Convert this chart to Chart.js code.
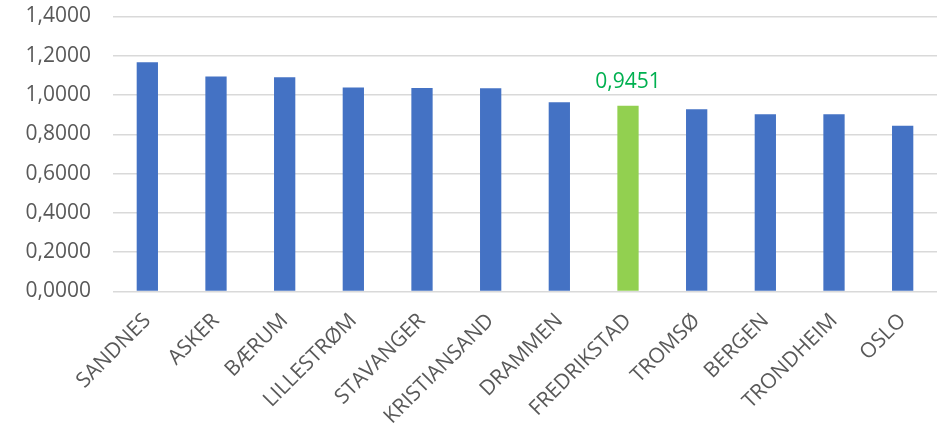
<!DOCTYPE html>
<html lang="no">
<head>
    <meta charset="UTF-8">
    <title>Indeks per by</title>
    <script src="https://cdn.jsdelivr.net/npm/chart.js"></script>
    <style>
        html, body { margin: 0; padding: 0; background: #fff; }
        #wrap { width: 938px; height: 429px; }
    </style>
</head>
<body>
    <div id="wrap"><canvas id="barChart" width="938" height="429"></canvas></div>

    <script>
        const cities = ['SANDNES', 'ASKER', 'BÆRUM', 'LILLESTRØM', 'STAVANGER', 'KRISTIANSAND',
                        'DRAMMEN', 'FREDRIKSTAD', 'TROMSØ', 'BERGEN', 'TRONDHEIM', 'OSLO'];
        const values = [1.167, 1.094, 1.091, 1.038, 1.036, 1.035,
                        0.963, 0.9451, 0.928, 0.902, 0.902, 0.844];
        const highlighted = 'FREDRIKSTAD';

        const fmt = v => Number(v).toFixed(4).replace('.', ',');

        // value label above the highlighted bar only
        const highlightLabel = {
            id: 'highlightLabel',
            afterDatasetsDraw(chart) {
                const ctx = chart.ctx;
                const meta = chart.getDatasetMeta(0);
                const i = cities.indexOf(highlighted);
                const bar = meta.data[i];
                ctx.save();
                ctx.font = '21px "Open Sans"';
                ctx.fillStyle = '#00B050';
                ctx.textAlign = 'center';
                ctx.fillText(fmt(values[i]), bar.x, bar.y - 18);
                ctx.restore();
            }
        };

        const ctx = document.getElementById('barChart').getContext('2d');
        new Chart(ctx, {
            type: 'bar',
            data: {
                labels: cities,
                datasets: [{
                    data: values,
                    backgroundColor: cities.map(c => c === highlighted ? '#92D050' : '#4472C4'),
                    barPercentage: 0.31,
                    categoryPercentage: 1.0
                }]
            },
            options: {
                responsive: false,
                animation: false,
                layout: { padding: { top: 0, right: 1 } },
                plugins: {
                    legend: { display: false },
                    tooltip: { enabled: false }
                },
                scales: {
                    x: {
                        grid: { display: false },
                        border: { display: false },
                        ticks: {
                            color: '#595959',
                            font: { family: 'Open Sans', size: 21 },
                            minRotation: 45,
                            maxRotation: 45,
                            padding: 9
                        },
                        afterFit(scale) { scale.height = 137.5; }
                    },
                    y: {
                        min: 0,
                        max: 1.4,
                        border: { display: false },
                        grid: { color: '#D9D9D9', lineWidth: 1.5, drawTicks: false },
                        ticks: {
                            stepSize: 0.2,
                            color: '#595959',
                            font: { family: 'Open Sans', size: 21 },
                            padding: 22,
                            callback: v => fmt(v)
                        },
                        afterFit(scale) {
                            scale.width = 113;
                            scale.paddingTop = 16.5;
                        }
                    }
                }
            },
            plugins: [highlightLabel]
        });
    </script>
</body>
</html>
